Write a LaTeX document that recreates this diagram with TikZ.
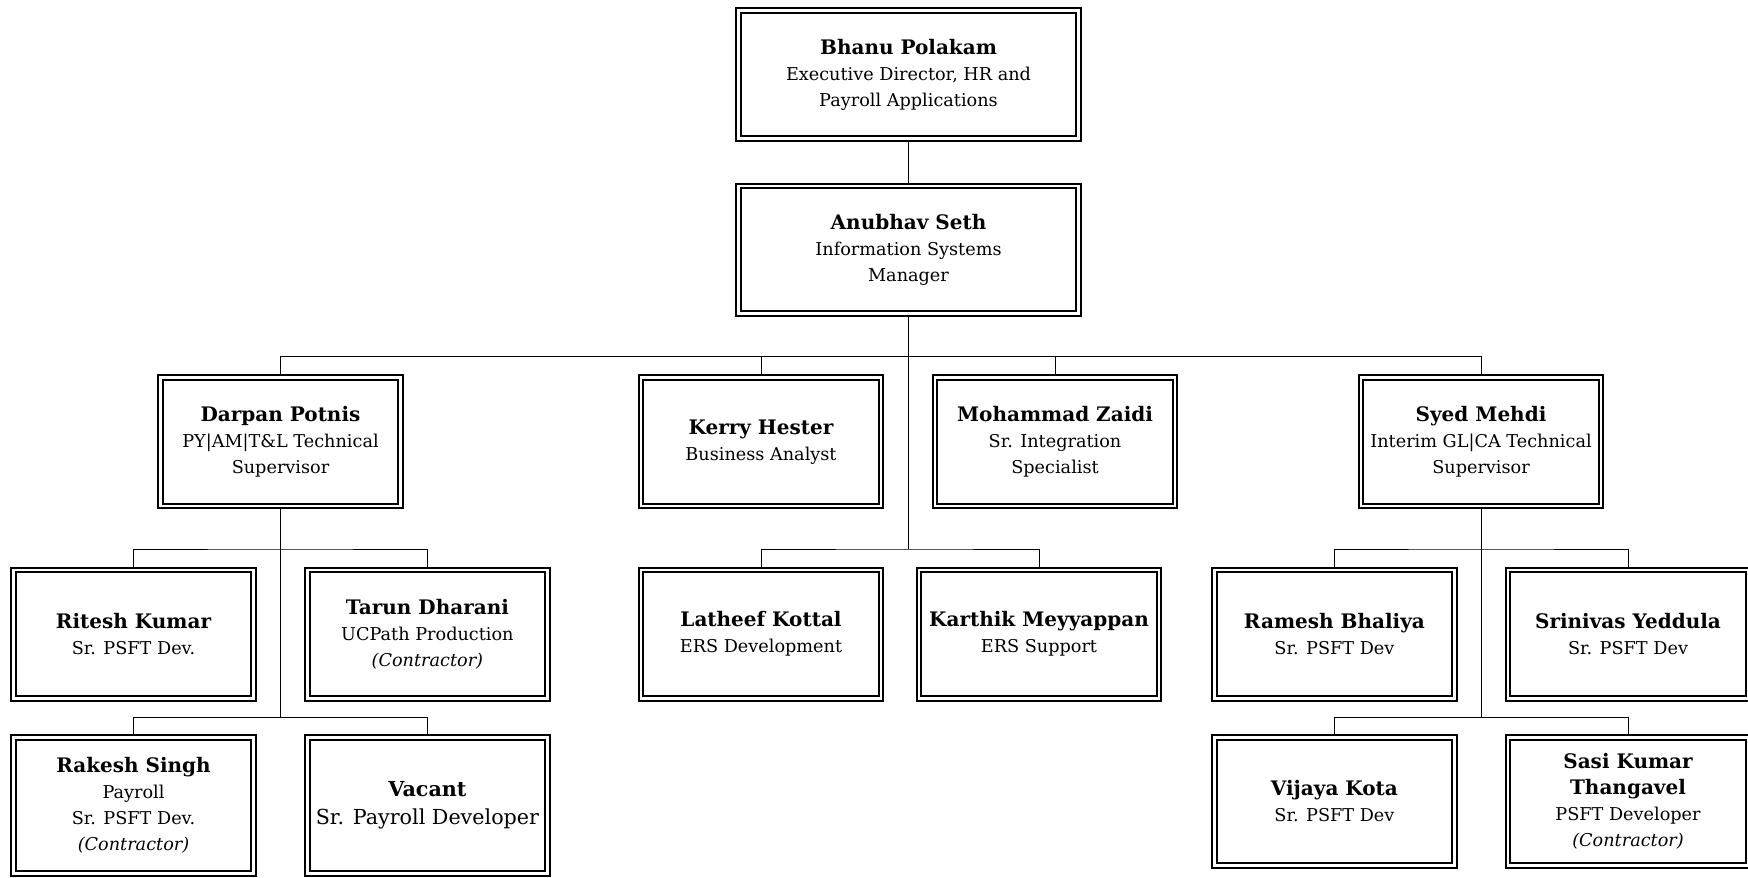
\documentclass[tikz,border=0pt]{standalone}
\usepackage{fontspec}
\setmainfont{DejaVu Serif}
\usetikzlibrary{backgrounds}
\newcommand{\who}[1]{{\fontsize{12}{15.6}\selectfont\bfseries #1}}
\newcommand{\jobfont}{\fontsize{10.6}{15.6}\selectfont}

\begin{document}
\begin{tikzpicture}[x=0.6pt,y=-0.6pt,line width=1.2pt]
  \tikzstyle{box}=[draw,double,double distance=1.7pt,fill=white,align=center,inner sep=2pt,minimum width=144pt,minimum height=77.1pt,font=\jobfont]
  \tikzstyle{head}=[box,minimum width=204.3pt,minimum height=76.5pt]
  \tikzstyle{tall}=[box,minimum height=81.7pt]
  \useasboundingbox (0,0) rectangle (1748,877);
  \node[head] (bhanu) at (908.5,74.5) {\who{Bhanu Polakam}\\Executive Director, HR and\\Payroll Applications};
  \node[head] (anubhav) at (908.5,249.7) {\who{Anubhav Seth}\\Information Systems\\Manager};
  \foreach \name/\x/\txt in {darpan/280.5/{\who{Darpan Potnis}\\PY|AM|T\&L Technical\\Supervisor},
      kerry/761/{\who{Kerry Hester}\\Business Analyst},
      mohammad/1055/{\who{Mohammad Zaidi}\\Sr. Integration\\Specialist},
      syed/1481/{\who{Syed Mehdi}\\Interim GL|CA Technical\\Supervisor}}
    \node[box] (\name) at (\x,441.8) {\txt};
  \foreach \name/\x/\txt in {ritesh/133.5/{\who{Ritesh Kumar}\\Sr. PSFT Dev.},
      tarun/427.4/{\who{Tarun Dharani}\\UCPath Production\\\textit{(Contractor)}},
      latheef/761/{\who{Latheef Kottal}\\ERS Development},
      karthik/1039/{\who{Karthik Meyyappan}\\ERS Support},
      ramesh/1334.4/{\who{Ramesh Bhaliya}\\Sr. PSFT Dev},
      srinivas/1628/{\who{Srinivas Yeddula}\\Sr. PSFT Dev}}
    \node[box] (\name) at (\x,634.2) {\txt};
  \node[tall] (rakesh) at (133.5,805.7) {\who{Rakesh Singh}\\Payroll\\Sr. PSFT Dev.\\\textit{(Contractor)}};
  \node[tall,font=\fontsize{12.4}{16.8}\selectfont] (vacant) at (427.4,805.7) {\textbf{\fontsize{12.4}{16.8}\selectfont Vacant}\\Sr. Payroll Developer};
  \node[box] (vijaya) at (1334.4,801.4) {\who{Vijaya Kota}\\Sr. PSFT Dev};
  \node[box] (sasi) at (1628,801.4) {\who{Sasi Kumar}\\\who{Thangavel}\\PSFT Developer\\\textit{(Contractor)}};
  \coordinate (bar) at (908.5,356.7);
  \coordinate (hub) at (908.5,549);
  \coordinate (dp1) at (280.5,549);
  \coordinate (dp2) at (280.5,717.7);
  \coordinate (sm1) at (1481,549);
  \coordinate (sm2) at (1481,717.7);
  \begin{scope}[on background layer]
    \draw (bhanu) -- (anubhav);
    \draw (anubhav.south) -- (hub);
    \draw (darpan.north) |- (bar) -| (syed.north);
    \foreach \name in {kerry,mohammad}
      \draw (\name.north) -- (\name.north |- bar);
    \draw (latheef.north) |- (hub) -| (karthik.north);
    \draw (darpan.south) -- (dp2);
    \draw (ritesh.north) |- (dp1) -| (tarun.north);
    \draw (rakesh.north) |- (dp2) -| (vacant.north);
    \draw (syed.south) -- (sm2);
    \draw (ramesh.north) |- (sm1) -| (srinivas.north);
    \draw (vijaya.north) |- (sm2) -| (sasi.north);
  \end{scope}
\end{tikzpicture}
\end{document}
